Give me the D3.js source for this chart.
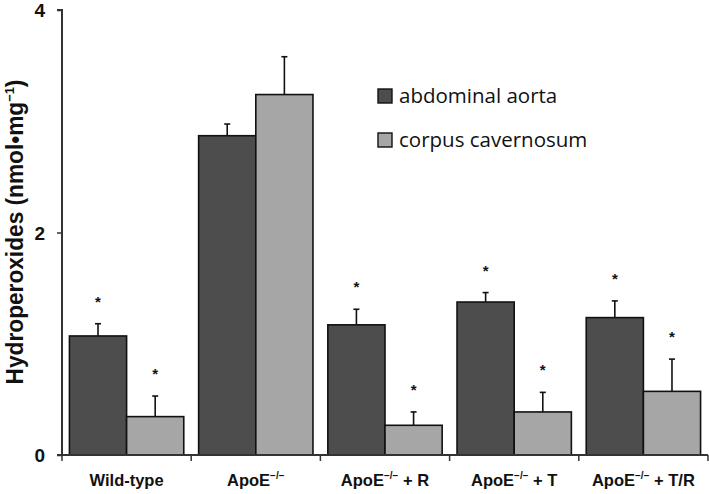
<!DOCTYPE html>
<html><head><meta charset="utf-8">
<script src="https://cdn.jsdelivr.net/npm/d3@7"></script>
<style>body{margin:0;background:#fff}svg{display:block}</style>
</head><body>
<svg id="c" width="709" height="494"></svg>
<script>
const categories = ["Wild-type","ApoE","ApoE+R","ApoE+T","ApoE+T/R"];
const labelMain = ["Wild-type","ApoE","ApoE","ApoE","ApoE"];
const labelSup = ["","\u2212/\u2212","\u2212/\u2212","\u2212/\u2212","\u2212/\u2212"];
const labelSuffix = ["","",  " + R"," + T"," + T/R"];
const seriesNames = ["abdominal aorta","corpus cavernosum"];
const aorta = [1.07, 2.87, 1.17, 1.375, 1.235];
const aortaErr = [0.11, 0.105, 0.14, 0.085, 0.15];
const cavern = [0.345, 3.24, 0.267, 0.387, 0.572];
const cavernErr = [0.185, 0.34, 0.12, 0.176, 0.29];
const aortaStar = [true,false,true,true,true];
const cavernStar = [true,false,true,true,true];
const yTicks = [0,2,4];
const colors = ["#4d4d4d","#a6a6a6"];

const FONT = "Liberation Sans, Arial, sans-serif";
const svg = d3.select("#c");
const x0 = 62, x1 = 708, yB = 455, yT = 10;
const x = d3.scaleBand().domain(categories).range([x0,x1]).paddingInner(0).paddingOuter(0);
const xs = d3.scaleBand().domain([0,1]).range([0,x.bandwidth()]).paddingOuter(0.13).paddingInner(0);
const y = d3.scaleLinear().domain([0,4]).range([yB,yT]);

const series = [
  {vals:aorta, err:aortaErr, star:aortaStar},
  {vals:cavern, err:cavernErr, star:cavernStar}
];

const g = svg.append("g");
series.forEach((s,si)=>{
  categories.forEach((c,i)=>{
    const bx = x(c)+xs(si), bw = xs.bandwidth();
    const cx = bx + bw/2;
    const top = y(s.vals[i]+s.err[i]);
    g.append("line").attr("x1",cx).attr("x2",cx).attr("y1",y(s.vals[i])).attr("y2",top)
      .attr("stroke","#111").attr("stroke-width",1.6);
    g.append("line").attr("x1",cx-3).attr("x2",cx+3).attr("y1",top).attr("y2",top)
      .attr("stroke","#111").attr("stroke-width",1.6);
    g.append("rect").attr("x",bx).attr("y",y(s.vals[i])).attr("width",bw)
      .attr("height",y(0)-y(s.vals[i])).attr("fill",colors[si])
      .attr("stroke","#111").attr("stroke-width",1.6);
    if(s.star[i]){
      g.append("text").attr("x",cx).attr("y",top-24+7).attr("text-anchor","middle")
        .attr("font-family",FONT).attr("font-weight","bold")
        .attr("font-size",15).attr("fill","#111").text("*");
    }
  });
});

// y axis
const yAxis = d3.axisLeft(y).tickValues(yTicks).tickSize(5).tickFormat(d3.format("d"));
const ya = svg.append("g").attr("transform",`translate(${x0},0)`).call(yAxis);
ya.select(".domain").attr("stroke","#333").attr("stroke-width",2).attr("d",`M-5,${yT}H0V${yB}`);
ya.selectAll(".tick line").attr("stroke","#333").attr("stroke-width",1.5);
ya.selectAll(".tick text").attr("font-family",FONT)
  .attr("font-weight","bold").attr("font-size",19).attr("fill","#111").attr("x",-17).attr("dy","0.36em");

// x axis
const xa = svg.append("g").attr("transform",`translate(0,${yB})`);
xa.append("line").attr("x1",x0-5).attr("x2",x1).attr("y1",0).attr("y2",0).attr("stroke","#333").attr("stroke-width",2);
const bounds = categories.map(c=>x(c)).concat([x1]);
xa.selectAll("line.tk").data(bounds).enter().append("line").attr("class","tk")
  .attr("x1",d=>d).attr("x2",d=>d).attr("y1",0).attr("y2",6).attr("stroke","#333").attr("stroke-width",1.5);
categories.forEach((c,i)=>{
  const t = xa.append("text").attr("x",x(c)+x.bandwidth()/2).attr("y",31)
    .attr("text-anchor","middle").attr("font-family",FONT)
    .attr("font-weight","bold").attr("font-size",16.5).attr("fill","#111");
  t.append("tspan").text(labelMain[i]);
  if(labelSup[i]) t.append("tspan").attr("font-size",10).attr("dy",-7).text(labelSup[i]);
  if(labelSuffix[i]) t.append("tspan").attr("dy",7).text(labelSuffix[i]);
});

// y title
const ytg = svg.append("g").attr("transform","translate(23,232) rotate(-90)");
const yt = ytg.append("text")
  .attr("text-anchor","middle").attr("font-family",FONT)
  .attr("font-weight","bold").attr("font-size",23).attr("fill","#111");
yt.append("tspan").text("Hydroperoxides (nmol\u2022mg");
yt.append("tspan").attr("font-size",13).attr("dy",-9).text("\u22121");
yt.append("tspan").attr("dy",9).text(")");
const tw = yt.node().getBBox().width;
yt.attr("transform",`scale(${305/tw},1)`);

// legend
const lg = svg.append("g");
seriesNames.forEach((n,i)=>{
  const ly = 89 + i*44;
  lg.append("rect").attr("x",378).attr("y",ly).attr("width",14).attr("height",14)
    .attr("fill",colors[i]).attr("stroke","#111").attr("stroke-width",1.4);
  lg.append("text").attr("x",399).attr("y",ly+14).attr("font-family","Open Sans, sans-serif")
    .attr("font-size",20.5).attr("fill","#111").text(n);
});
</script>
</body></html>
